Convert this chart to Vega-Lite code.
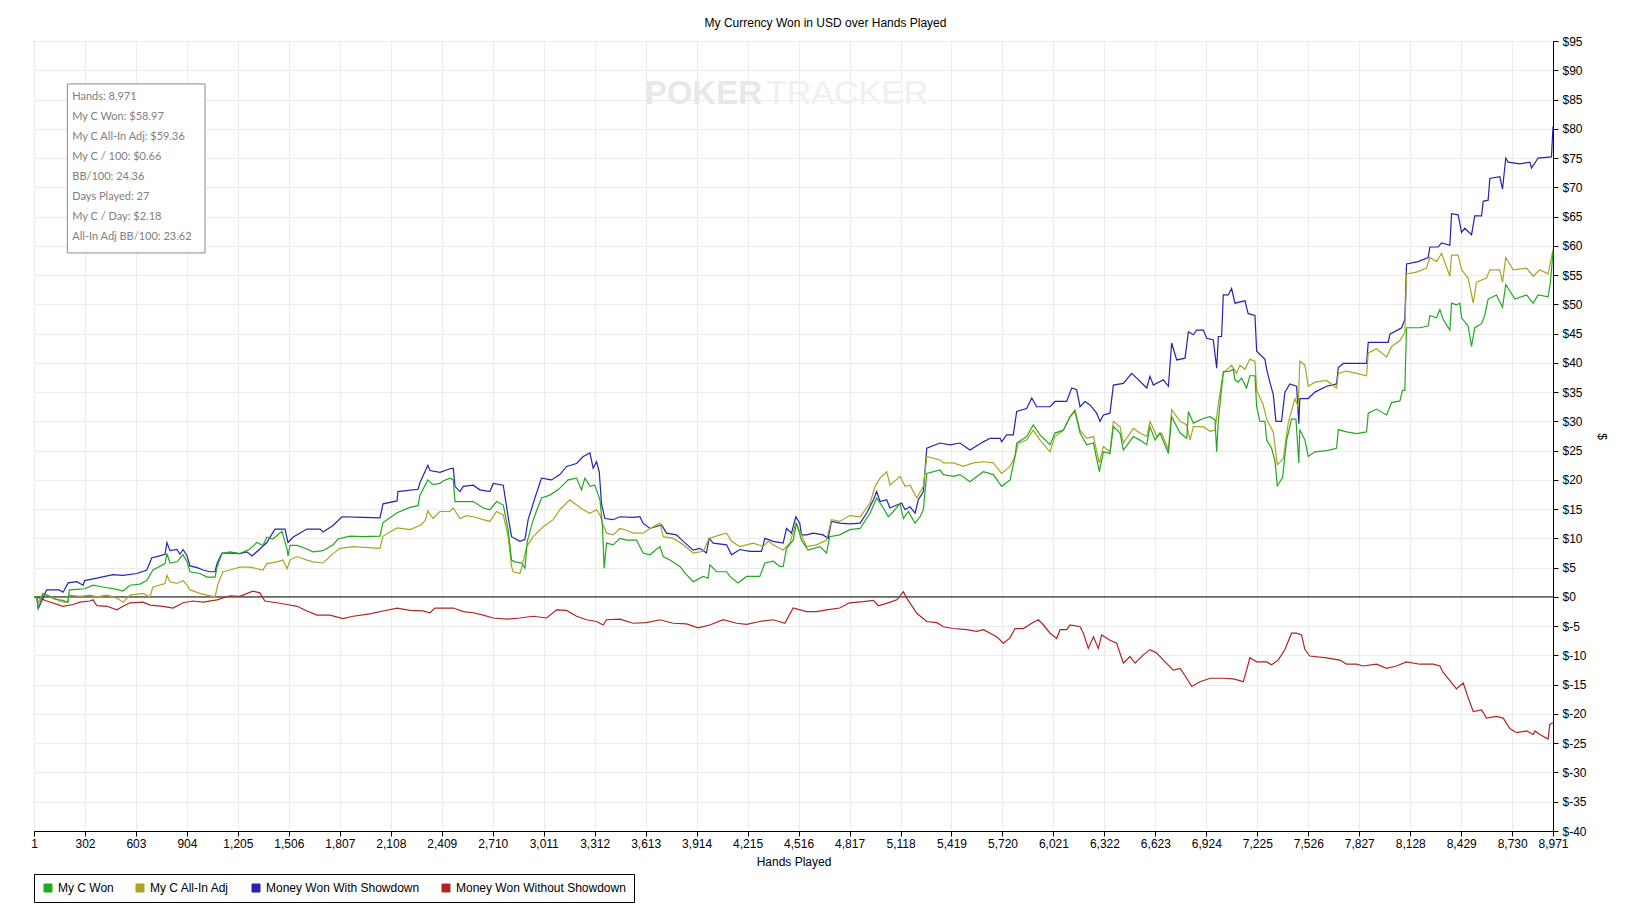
{
  "$schema": "https://vega.github.io/schema/vega-lite/v6.json",
  "description": "My Currency Won in USD over Hands Played",
  "autosize": "none",
  "width": 1519,
  "height": 790,
  "padding": {"left": 34, "top": 41, "right": 83, "bottom": 92},
  "background": "white",
  "title": {
    "text": "My Currency Won in USD over Hands Played",
    "font": "Liberation Sans",
    "fontSize": 12,
    "fontWeight": "normal",
    "color": "black",
    "anchor": "middle",
    "dx": 32,
    "offset": 5
  },
  "config": {
    "view": {"stroke": "black", "strokeWidth": 1},
    "axis": {
      "labelFont": "Liberation Sans",
      "labelFontSize": 12,
      "labelColor": "black",
      "titleFont": "Liberation Sans",
      "titleFontSize": 12,
      "titleFontWeight": "normal",
      "titleColor": "black",
      "tickColor": "black",
      "tickSize": 5,
      "domainColor": "black",
      "gridColor": "#ebebeb",
      "gridWidth": 1,
      "labelOverlap": false,
      "labelFlush": false
    }
  },
  "datasets": {
    "box": [{"h": 198, "h2": 1011, "v": 87.66, "v2": 58.78}],
    "stats": [
      {"h": 227, "v": 85.49, "t": "Hands: 8,971"},
      {"h": 227, "v": 82.07, "t": "My C Won: $58.97"},
      {"h": 227, "v": 78.66, "t": "My C All-In Adj: $59.36"},
      {"h": 227, "v": 75.24, "t": "My C / 100: $0.66"},
      {"h": 227, "v": 71.82, "t": "BB/100: 24.36"},
      {"h": 227, "v": 68.40, "t": "Days Played: 27"},
      {"h": 227, "v": 64.98, "t": "My C / Day: $2.18"},
      {"h": 227, "v": 61.57, "t": "All-In Adj BB/100: 23.62"}
    ],
    "won": [
      {"h":1,"v":0},{"h":17,"v":0},{"h":26,"v":-2},{"h":55,"v":0.6},{"h":76,"v":0.3},{"h":125,"v":-0.4},{"h":173,"v":-0.6},{"h":200,"v":-0.9},{"h":210,"v":1.2},{"h":253,"v":1.3},{"h":300,"v":1.4},{"h":350,"v":2.0},{"h":408,"v":1.7},{"h":490,"v":1.3},{"h":527,"v":1.0},{"h":568,"v":2.0},{"h":627,"v":2.2},{"h":667,"v":2.8},{"h":703,"v":4.6},{"h":775,"v":5.7},{"h":786,"v":7.4},{"h":804,"v":5.8},{"h":845,"v":6.0},{"h":881,"v":7.2},{"h":905,"v":6.0},{"h":922,"v":4.3},{"h":981,"v":4.0},{"h":1023,"v":3.4},{"h":1070,"v":3.4},{"h":1082,"v":5.1},{"h":1111,"v":7.4},{"h":1158,"v":7.7},{"h":1217,"v":7.4},{"h":1276,"v":8.2},{"h":1317,"v":9.3},{"h":1353,"v":8.8},{"h":1376,"v":10.2},{"h":1412,"v":9.9},{"h":1465,"v":11.2},{"h":1495,"v":8.2},{"h":1501,"v":7.0},{"h":1513,"v":8.8},{"h":1554,"v":8.8},{"h":1613,"v":8.2},{"h":1649,"v":7.7},{"h":1708,"v":7.9},{"h":1767,"v":8.9},{"h":1796,"v":9.9},{"h":1867,"v":10.4},{"h":1944,"v":10.3},{"h":2044,"v":10.4},{"h":2062,"v":12.7},{"h":2145,"v":14.4},{"h":2221,"v":15.3},{"h":2269,"v":15.6},{"h":2280,"v":17.4},{"h":2327,"v":20.0},{"h":2357,"v":19.2},{"h":2398,"v":19.4},{"h":2416,"v":19.8},{"h":2457,"v":20.3},
      {"h":2477,"v":20.0},{"h":2487,"v":16.3},{"h":2536,"v":16.3},{"h":2595,"v":16.3},{"h":2654,"v":15.2},{"h":2693,"v":14.9},{"h":2733,"v":16.3},{"h":2772,"v":15.7},{"h":2801,"v":11.5},{"h":2821,"v":6.3},{"h":2841,"v":6.0},{"h":2880,"v":5.8},{"h":2900,"v":4.9},{"h":2914,"v":9.5},{"h":2949,"v":13.2},{"h":2998,"v":16.9},{"h":3047,"v":17.4},{"h":3096,"v":18.3},{"h":3156,"v":20.0},{"h":3205,"v":20.3},{"h":3234,"v":18.3},{"h":3254,"v":20.3},{"h":3284,"v":18.9},{"h":3313,"v":19.1},{"h":3343,"v":16.6},{"h":3358,"v":12.0},{"h":3368,"v":4.9},{"h":3382,"v":9.2},{"h":3421,"v":8.9},{"h":3461,"v":10.0},{"h":3500,"v":9.7},{"h":3559,"v":9.7},{"h":3598,"v":7.5},{"h":3638,"v":7.2},{"h":3697,"v":8.6},{"h":3717,"v":6.9},{"h":3756,"v":6.3},{"h":3815,"v":5.2},{"h":3854,"v":3.8},{"h":3894,"v":2.6},{"h":3953,"v":3.5},{"h":3982,"v":3.2},{"h":3992,"v":5.5},{"h":4032,"v":4.3},{"h":4091,"v":4.3},{"h":4110,"v":3.5},{"h":4159,"v":2.4},{"h":4209,"v":3.5},{"h":4287,"v":3.5},{"h":4317,"v":5.8},{"h":4366,"v":6.1},{"h":4405,"v":5.2},{"h":4425,"v":5.2},{"h":4445,"v":8.3},{"h":4484,"v":9.7},{"h":4504,"v":12.6},{"h":4533,"v":9.7},{"h":4572,"v":8.0},{"h":4642,"v":8.6},{"h":4681,"v":7.5},{"h":4700,"v":10.3},{"h":4759,"v":10.6},{"h":4818,"v":11.5},
      {"h":4879,"v":11.7},{"h":4938,"v":14.3},{"h":4968,"v":16.3},{"h":4977,"v":16.9},{"h":5017,"v":15.2},{"h":5046,"v":13.7},{"h":5076,"v":14.6},{"h":5115,"v":16.0},{"h":5135,"v":13.4},{"h":5164,"v":14.6},{"h":5204,"v":12.6},{"h":5233,"v":13.7},{"h":5253,"v":14.9},{"h":5273,"v":21.1},{"h":5351,"v":21.7},{"h":5371,"v":20.9},{"h":5430,"v":20.6},{"h":5469,"v":20.9},{"h":5528,"v":19.7},{"h":5607,"v":21.4},{"h":5666,"v":20.9},{"h":5715,"v":18.9},{"h":5765,"v":20.0},{"h":5794,"v":24.0},{"h":5804,"v":26.3},{"h":5863,"v":27.4},{"h":5902,"v":29.4},{"h":5942,"v":27.7},{"h":6001,"v":26.0},{"h":6030,"v":28.0},{"h":6080,"v":28.5},{"h":6119,"v":30.8},{"h":6148,"v":31.7},{"h":6178,"v":28.0},{"h":6217,"v":26.0},{"h":6257,"v":26.3},{"h":6292,"v":21.4},{"h":6316,"v":24.8},{"h":6355,"v":24.5},{"h":6375,"v":29.1},{"h":6414,"v":28.0},{"h":6434,"v":25.1},{"h":6493,"v":27.4},{"h":6532,"v":26.8},{"h":6572,"v":26.0},{"h":6591,"v":29.1},{"h":6621,"v":26.8},{"h":6650,"v":28.0},{"h":6700,"v":24.5},{"h":6719,"v":30.8},{"h":6769,"v":28.0},{"h":6808,"v":27.1},{"h":6818,"v":31.7},{"h":6847,"v":29.7},{"h":6906,"v":30.5},{"h":6946,"v":30.8},{"h":6975,"v":30.3},{"h":6985,"v":24.8},{"h":6995,"v":30.3},
      {"h":7024,"v":38.5},{"h":7063,"v":38.6},{"h":7083,"v":38.9},{"h":7093,"v":37.1},{"h":7112,"v":36.7},{"h":7132,"v":37.4},{"h":7161,"v":35.7},{"h":7181,"v":37.8},{"h":7211,"v":37.8},{"h":7221,"v":32.5},{"h":7240,"v":30.0},{"h":7270,"v":30.0},{"h":7280,"v":26.8},{"h":7309,"v":25.4},{"h":7329,"v":23.3},{"h":7343,"v":19.0},{"h":7374,"v":20.4},{"h":7398,"v":26.8},{"h":7427,"v":30.4},{"h":7453,"v":30.4},{"h":7470,"v":22.9},{"h":7476,"v":28.6},{"h":7506,"v":26.8},{"h":7526,"v":24.0},{"h":7565,"v":24.8},{"h":7634,"v":25.0},{"h":7693,"v":25.4},{"h":7703,"v":28.6},{"h":7752,"v":28.2},{"h":7811,"v":27.9},{"h":7870,"v":28.2},{"h":7880,"v":31.4},{"h":7929,"v":32.1},{"h":7988,"v":31.1},{"h":8018,"v":33.2},{"h":8067,"v":33.5},{"h":8082,"v":35.3},{"h":8096,"v":35.3},{"h":8106,"v":46.0},{"h":8185,"v":46.0},{"h":8234,"v":46.3},{"h":8244,"v":48.1},{"h":8283,"v":47.7},{"h":8303,"v":49.1},{"h":8323,"v":47.4},{"h":8362,"v":45.6},{"h":8372,"v":50.2},{"h":8401,"v":49.9},{"h":8421,"v":50.2},{"h":8431,"v":47.7},{"h":8470,"v":46.3},{"h":8490,"v":42.8},{"h":8509,"v":46.0},{"h":8549,"v":46.7},{"h":8568,"v":48.1},{"h":8588,"v":50.9},{"h":8637,"v":51.6},{"h":8673,"v":49.5},{"h":8692,"v":53.4},{"h":8746,"v":50.9},{"h":8815,"v":51.6},{"h":8854,"v":50.2},{"h":8883,"v":51.6},{"h":8942,"v":51.3},{"h":8956,"v":53.8},{"h":8971,"v":58.97}
    ],
    "adj": [
      {"h":1,"v":0},{"h":17,"v":0},{"h":26,"v":-1},{"h":55,"v":0.6},{"h":96,"v":0.1},{"h":173,"v":-0.9},{"h":203,"v":-0.9},{"h":210,"v":0.3},{"h":273,"v":0.1},{"h":332,"v":0.3},{"h":372,"v":0},{"h":432,"v":0.3},{"h":490,"v":-0.2},{"h":527,"v":-0.9},{"h":568,"v":0.3},{"h":645,"v":0.6},{"h":686,"v":0.0},{"h":703,"v":1.7},{"h":775,"v":2.3},{"h":786,"v":3.7},{"h":804,"v":2.6},{"h":845,"v":2.3},{"h":881,"v":2.8},{"h":905,"v":2.0},{"h":922,"v":1.2},{"h":981,"v":0.6},{"h":1023,"v":0.3},{"h":1070,"v":0},{"h":1088,"v":2.3},{"h":1117,"v":4.3},{"h":1158,"v":4.6},{"h":1217,"v":5.1},{"h":1276,"v":5.1},{"h":1353,"v":4.6},{"h":1376,"v":5.7},{"h":1435,"v":6.0},{"h":1471,"v":6.3},{"h":1495,"v":4.8},{"h":1513,"v":6.3},{"h":1554,"v":6.9},{"h":1613,"v":6.3},{"h":1649,"v":6.0},{"h":1708,"v":5.8},{"h":1767,"v":7.4},{"h":1808,"v":8.3},{"h":1885,"v":8.6},{"h":2044,"v":8.3},{"h":2062,"v":10.4},{"h":2145,"v":11.8},{"h":2221,"v":11.5},{"h":2280,"v":12.2},{"h":2310,"v":13.0},{"h":2327,"v":14.7},{"h":2357,"v":13.4},{"h":2398,"v":14.6},{"h":2457,"v":14.6},
      {"h":2477,"v":15.2},{"h":2516,"v":13.4},{"h":2555,"v":13.9},{"h":2595,"v":13.7},{"h":2654,"v":13.2},{"h":2693,"v":12.9},{"h":2733,"v":14.6},{"h":2772,"v":14.0},{"h":2801,"v":10.3},{"h":2821,"v":5.2},{"h":2831,"v":4.3},{"h":2870,"v":4.0},{"h":2880,"v":4.9},{"h":2910,"v":8.6},{"h":2949,"v":10.3},{"h":3008,"v":12.0},{"h":3067,"v":13.2},{"h":3106,"v":14.9},{"h":3165,"v":16.6},{"h":3205,"v":15.7},{"h":3244,"v":14.9},{"h":3284,"v":14.3},{"h":3323,"v":14.9},{"h":3343,"v":14.0},{"h":3362,"v":12.3},{"h":3382,"v":10.9},{"h":3421,"v":10.6},{"h":3461,"v":11.7},{"h":3500,"v":11.4},{"h":3539,"v":10.9},{"h":3598,"v":10.9},{"h":3638,"v":11.7},{"h":3697,"v":12.6},{"h":3717,"v":10.3},{"h":3776,"v":10.0},{"h":3835,"v":8.9},{"h":3894,"v":7.5},{"h":3953,"v":7.8},{"h":3988,"v":10.0},{"h":4051,"v":10.6},{"h":4091,"v":10.9},{"h":4120,"v":9.5},{"h":4169,"v":8.6},{"h":4248,"v":9.2},{"h":4307,"v":8.6},{"h":4336,"v":9.5},{"h":4366,"v":8.9},{"h":4425,"v":8.0},{"h":4464,"v":9.2},{"h":4500,"v":12.6},{"h":4533,"v":10.6},{"h":4563,"v":8.6},{"h":4622,"v":8.9},{"h":4681,"v":9.7},{"h":4710,"v":13.2},{"h":4759,"v":12.9},{"h":4818,"v":13.9},
      {"h":4879,"v":13.7},{"h":4938,"v":16.0},{"h":4968,"v":18.9},{"h":4997,"v":20.3},{"h":5036,"v":21.4},{"h":5056,"v":19.1},{"h":5115,"v":20.6},{"h":5145,"v":18.9},{"h":5174,"v":19.1},{"h":5214,"v":16.9},{"h":5253,"v":18.9},{"h":5273,"v":24.0},{"h":5351,"v":23.4},{"h":5371,"v":22.9},{"h":5430,"v":22.9},{"h":5489,"v":22.3},{"h":5548,"v":22.9},{"h":5607,"v":23.1},{"h":5666,"v":22.9},{"h":5715,"v":21.1},{"h":5765,"v":22.3},{"h":5794,"v":24.0},{"h":5814,"v":26.3},{"h":5863,"v":26.8},{"h":5902,"v":28.5},{"h":5942,"v":26.8},{"h":6001,"v":24.8},{"h":6030,"v":27.4},{"h":6080,"v":28.5},{"h":6119,"v":30.8},{"h":6148,"v":32.0},{"h":6178,"v":28.5},{"h":6217,"v":27.1},{"h":6257,"v":27.4},{"h":6292,"v":22.9},{"h":6316,"v":25.7},{"h":6355,"v":24.8},{"h":6375,"v":30.0},{"h":6414,"v":29.1},{"h":6434,"v":26.3},{"h":6493,"v":28.8},{"h":6532,"v":28.0},{"h":6572,"v":27.4},{"h":6591,"v":30.0},{"h":6631,"v":27.4},{"h":6660,"v":28.0},{"h":6700,"v":25.1},{"h":6719,"v":32.0},{"h":6769,"v":30.0},{"h":6808,"v":29.4},{"h":6828,"v":26.8},{"h":6847,"v":29.1},{"h":6906,"v":29.1},{"h":6946,"v":28.3},{"h":6975,"v":28.5},{"h":6995,"v":33.1},
      {"h":7024,"v":38.2},{"h":7073,"v":39.6},{"h":7102,"v":38.2},{"h":7122,"v":39.6},{"h":7152,"v":38.9},{"h":7181,"v":40.6},{"h":7211,"v":40.3},{"h":7221,"v":35.3},{"h":7260,"v":32.8},{"h":7280,"v":30.4},{"h":7319,"v":28.2},{"h":7343,"v":22.6},{"h":7378,"v":23.6},{"h":7407,"v":29.6},{"h":7447,"v":33.9},{"h":7466,"v":32.5},{"h":7476,"v":40.3},{"h":7506,"v":39.6},{"h":7526,"v":36.0},{"h":7565,"v":36.7},{"h":7634,"v":37.0},{"h":7693,"v":35.7},{"h":7703,"v":38.2},{"h":7752,"v":38.6},{"h":7811,"v":38.2},{"h":7870,"v":37.8},{"h":7880,"v":41.7},{"h":7929,"v":42.4},{"h":7988,"v":41.0},{"h":8018,"v":42.8},{"h":8067,"v":43.8},{"h":8096,"v":45.2},{"h":8106,"v":55.2},{"h":8165,"v":55.5},{"h":8224,"v":56.2},{"h":8244,"v":58.0},{"h":8283,"v":57.3},{"h":8313,"v":58.7},{"h":8362,"v":54.8},{"h":8372,"v":58.4},{"h":8411,"v":58.4},{"h":8431,"v":55.9},{"h":8470,"v":54.5},{"h":8500,"v":50.2},{"h":8519,"v":53.8},{"h":8578,"v":54.5},{"h":8598,"v":55.9},{"h":8657,"v":55.9},{"h":8673,"v":53.8},{"h":8692,"v":58.0},{"h":8736,"v":55.9},{"h":8815,"v":56.2},{"h":8854,"v":54.8},{"h":8893,"v":55.9},{"h":8942,"v":55.2},{"h":8971,"v":59.36}
    ],
    "sd": [
      {"h":1,"v":0},{"h":17,"v":0},{"h":26,"v":-2},{"h":76,"v":1.2},{"h":150,"v":1.2},{"h":173,"v":0.8},{"h":203,"v":2.4},{"h":253,"v":2.6},{"h":291,"v":2.0},{"h":300,"v":2.8},{"h":372,"v":3.2},{"h":468,"v":3.8},{"h":527,"v":3.7},{"h":608,"v":4.0},{"h":667,"v":4.6},{"h":697,"v":6.7},{"h":727,"v":6.9},{"h":775,"v":7.3},{"h":786,"v":9.3},{"h":804,"v":7.9},{"h":845,"v":8.1},{"h":863,"v":7.3},{"h":881,"v":8.1},{"h":905,"v":7.0},{"h":922,"v":5.3},{"h":964,"v":5.0},{"h":1000,"v":4.6},{"h":1040,"v":4.3},{"h":1070,"v":4.3},{"h":1082,"v":5.7},{"h":1111,"v":7.5},{"h":1158,"v":7.5},{"h":1217,"v":7.4},{"h":1258,"v":7.7},{"h":1288,"v":7.0},{"h":1335,"v":8.2},{"h":1376,"v":9.3},{"h":1424,"v":11.6},{"h":1483,"v":11.6},{"h":1501,"v":9.3},{"h":1530,"v":10.2},{"h":1613,"v":11.6},{"h":1690,"v":11.6},{"h":1708,"v":11.1},{"h":1767,"v":12.2},{"h":1820,"v":13.7},{"h":1944,"v":13.6},{"h":2044,"v":13.5},{"h":2062,"v":15.9},{"h":2145,"v":16.4},{"h":2150,"v":18.0},{"h":2269,"v":18.4},{"h":2280,"v":19.5},{"h":2327,"v":22.5},{"h":2339,"v":21.6},{"h":2398,"v":21.3},{"h":2457,"v":21.9},
      {"h":2477,"v":22.0},{"h":2487,"v":18.9},{"h":2516,"v":18.0},{"h":2536,"v":18.9},{"h":2595,"v":19.1},{"h":2634,"v":18.3},{"h":2693,"v":18.0},{"h":2713,"v":19.4},{"h":2772,"v":19.1},{"h":2801,"v":13.7},{"h":2821,"v":10.3},{"h":2870,"v":9.5},{"h":2900,"v":9.8},{"h":2919,"v":13.2},{"h":2959,"v":16.9},{"h":2998,"v":20.3},{"h":3057,"v":20.0},{"h":3106,"v":20.9},{"h":3146,"v":22.3},{"h":3205,"v":22.8},{"h":3244,"v":24.0},{"h":3284,"v":24.6},{"h":3303,"v":22.0},{"h":3323,"v":23.1},{"h":3339,"v":21.4},{"h":3352,"v":16.0},{"h":3372,"v":13.4},{"h":3421,"v":13.2},{"h":3461,"v":13.7},{"h":3539,"v":13.6},{"h":3579,"v":13.7},{"h":3598,"v":12.6},{"h":3638,"v":11.7},{"h":3707,"v":12.3},{"h":3736,"v":10.9},{"h":3795,"v":10.6},{"h":3835,"v":9.5},{"h":3894,"v":8.0},{"h":3933,"v":8.3},{"h":3972,"v":7.5},{"h":3988,"v":10.0},{"h":4012,"v":9.2},{"h":4091,"v":8.9},{"h":4120,"v":7.2},{"h":4169,"v":8.1},{"h":4228,"v":7.8},{"h":4297,"v":7.8},{"h":4317,"v":10.0},{"h":4366,"v":9.5},{"h":4425,"v":9.2},{"h":4445,"v":11.7},{"h":4474,"v":10.9},{"h":4500,"v":13.7},{"h":4523,"v":12.6},{"h":4533,"v":10.6},{"h":4563,"v":10.6},{"h":4602,"v":10.9},{"h":4661,"v":10.6},{"h":4691,"v":10.0},{"h":4710,"v":12.9},{"h":4759,"v":12.6},{"h":4818,"v":12.5},
      {"h":4879,"v":12.6},{"h":4918,"v":14.3},{"h":4958,"v":16.6},{"h":4977,"v":18.0},{"h":4997,"v":16.3},{"h":5036,"v":16.6},{"h":5056,"v":15.2},{"h":5096,"v":15.7},{"h":5125,"v":16.0},{"h":5145,"v":14.9},{"h":5174,"v":15.4},{"h":5204,"v":14.3},{"h":5223,"v":16.6},{"h":5253,"v":18.0},{"h":5273,"v":25.4},{"h":5351,"v":26.3},{"h":5410,"v":26.0},{"h":5469,"v":26.3},{"h":5528,"v":25.1},{"h":5607,"v":26.5},{"h":5647,"v":27.1},{"h":5706,"v":27.1},{"h":5715,"v":26.5},{"h":5745,"v":27.7},{"h":5784,"v":27.7},{"h":5804,"v":31.7},{"h":5863,"v":32.2},{"h":5893,"v":34.0},{"h":5922,"v":32.5},{"h":6001,"v":32.5},{"h":6030,"v":33.4},{"h":6099,"v":33.4},{"h":6129,"v":35.7},{"h":6158,"v":35.4},{"h":6178,"v":32.5},{"h":6207,"v":33.4},{"h":6237,"v":32.8},{"h":6276,"v":31.4},{"h":6296,"v":30.0},{"h":6316,"v":31.1},{"h":6355,"v":31.4},{"h":6375,"v":36.2},{"h":6434,"v":36.5},{"h":6483,"v":38.2},{"h":6513,"v":37.4},{"h":6572,"v":35.7},{"h":6591,"v":37.7},{"h":6611,"v":36.2},{"h":6670,"v":37.1},{"h":6700,"v":36.0},{"h":6719,"v":43.4},{"h":6749,"v":40.5},{"h":6798,"v":40.8},{"h":6818,"v":45.3},{"h":6847,"v":44.8},{"h":6867,"v":45.6},{"h":6906,"v":45.6},{"h":6926,"v":44.2},{"h":6965,"v":43.9},{"h":6985,"v":39.1},{"h":6995,"v":44.5},{"h":7014,"v":44.5},
      {"h":7024,"v":51.6},{"h":7053,"v":51.6},{"h":7073,"v":52.7},{"h":7093,"v":50.2},{"h":7152,"v":50.6},{"h":7171,"v":48.4},{"h":7211,"v":48.1},{"h":7221,"v":42.0},{"h":7270,"v":40.6},{"h":7280,"v":38.9},{"h":7299,"v":36.7},{"h":7319,"v":34.6},{"h":7335,"v":30.0},{"h":7368,"v":30.0},{"h":7388,"v":35.0},{"h":7417,"v":36.4},{"h":7457,"v":36.0},{"h":7470,"v":29.6},{"h":7476,"v":33.9},{"h":7526,"v":33.9},{"h":7565,"v":35.0},{"h":7634,"v":36.0},{"h":7693,"v":36.4},{"h":7703,"v":39.2},{"h":7732,"v":39.9},{"h":7811,"v":39.9},{"h":7870,"v":39.9},{"h":7880,"v":43.5},{"h":7998,"v":43.5},{"h":8008,"v":44.9},{"h":8077,"v":46.0},{"h":8096,"v":47.4},{"h":8106,"v":56.9},{"h":8175,"v":57.3},{"h":8234,"v":58.0},{"h":8244,"v":59.8},{"h":8293,"v":59.8},{"h":8313,"v":60.5},{"h":8362,"v":60.1},{"h":8372,"v":65.5},{"h":8411,"v":65.3},{"h":8431,"v":62.3},{"h":8450,"v":63.0},{"h":8490,"v":61.9},{"h":8509,"v":65.1},{"h":8549,"v":65.1},{"h":8559,"v":67.6},{"h":8588,"v":67.8},{"h":8598,"v":71.5},{"h":8657,"v":71.8},{"h":8673,"v":69.7},{"h":8692,"v":75.0},{"h":8706,"v":74.3},{"h":8775,"v":74.0},{"h":8834,"v":74.3},{"h":8844,"v":73.3},{"h":8883,"v":75.0},{"h":8962,"v":75.2},{"h":8971,"v":80.4}
    ],
    "nsd": [
      {"h":1,"v":0},{"h":17,"v":0},{"h":76,"v":-0.7},{"h":173,"v":-1.6},{"h":231,"v":-1.3},{"h":273,"v":-0.9},{"h":332,"v":-0.7},{"h":350,"v":-0.5},{"h":372,"v":-1.5},{"h":432,"v":-1.6},{"h":490,"v":-2.2},{"h":527,"v":-1.6},{"h":568,"v":-1.0},{"h":645,"v":-0.9},{"h":686,"v":-1.4},{"h":763,"v":-1.6},{"h":822,"v":-1.9},{"h":881,"v":-1.0},{"h":940,"v":-0.7},{"h":1000,"v":-0.9},{"h":1082,"v":-0.5},{"h":1158,"v":0.2},{"h":1217,"v":0.1},{"h":1293,"v":1.0},{"h":1335,"v":0.7},{"h":1364,"v":-0.7},{"h":1435,"v":-1.0},{"h":1495,"v":-1.3},{"h":1554,"v":-1.6},{"h":1613,"v":-2.4},{"h":1672,"v":-3.1},{"h":1749,"v":-3.1},{"h":1826,"v":-3.7},{"h":1885,"v":-3.3},{"h":1985,"v":-2.9},{"h":2062,"v":-2.4},{"h":2145,"v":-1.9},{"h":2221,"v":-2.3},{"h":2298,"v":-2.4},{"h":2339,"v":-2.7},{"h":2369,"v":-1.9},{"h":2398,"v":-1.9},
      {"h":2477,"v":-1.9},{"h":2536,"v":-2.5},{"h":2595,"v":-2.7},{"h":2654,"v":-3.1},{"h":2713,"v":-3.6},{"h":2792,"v":-3.8},{"h":2870,"v":-3.6},{"h":2949,"v":-3.3},{"h":3028,"v":-3.6},{"h":3087,"v":-2.2},{"h":3146,"v":-2.3},{"h":3205,"v":-3.3},{"h":3264,"v":-3.9},{"h":3323,"v":-4.2},{"h":3362,"v":-4.8},{"h":3382,"v":-3.9},{"h":3461,"v":-3.8},{"h":3539,"v":-4.5},{"h":3618,"v":-4.4},{"h":3697,"v":-3.9},{"h":3776,"v":-4.5},{"h":3854,"v":-4.6},{"h":3923,"v":-5.3},{"h":3992,"v":-4.8},{"h":4071,"v":-3.9},{"h":4150,"v":-4.5},{"h":4209,"v":-4.7},{"h":4287,"v":-4.2},{"h":4366,"v":-3.9},{"h":4435,"v":-4.5},{"h":4484,"v":-1.9},{"h":4563,"v":-2.5},{"h":4622,"v":-2.5},{"h":4681,"v":-2.2},{"h":4759,"v":-1.9},{"h":4818,"v":-1.0},
      {"h":4899,"v":-0.8},{"h":4958,"v":-0.6},{"h":4987,"v":-1.5},{"h":5036,"v":-1.1},{"h":5096,"v":-0.5},{"h":5135,"v":0.9},{"h":5155,"v":-0.2},{"h":5214,"v":-2.8},{"h":5273,"v":-4.2},{"h":5332,"v":-4.4},{"h":5371,"v":-5.1},{"h":5430,"v":-5.4},{"h":5509,"v":-5.6},{"h":5568,"v":-5.9},{"h":5607,"v":-5.6},{"h":5686,"v":-6.8},{"h":5725,"v":-7.9},{"h":5765,"v":-7.0},{"h":5794,"v":-5.4},{"h":5843,"v":-5.4},{"h":5893,"v":-4.5},{"h":5932,"v":-3.9},{"h":5962,"v":-4.8},{"h":6001,"v":-6.2},{"h":6040,"v":-7.1},{"h":6060,"v":-5.6},{"h":6099,"v":-5.6},{"h":6119,"v":-4.8},{"h":6178,"v":-5.1},{"h":6198,"v":-6.2},{"h":6227,"v":-8.8},{"h":6257,"v":-6.8},{"h":6286,"v":-8.8},{"h":6306,"v":-6.5},{"h":6355,"v":-7.4},{"h":6394,"v":-7.9},{"h":6434,"v":-11.3},{"h":6473,"v":-10.2},{"h":6503,"v":-11.3},{"h":6552,"v":-9.9},{"h":6591,"v":-9.0},{"h":6631,"v":-9.6},{"h":6670,"v":-10.8},{"h":6729,"v":-12.5},{"h":6769,"v":-12.2},{"h":6808,"v":-13.9},{"h":6838,"v":-15.3},{"h":6887,"v":-14.5},{"h":6946,"v":-13.9},{"h":7024,"v":-13.9},{"h":7083,"v":-14.0},
      {"h":7122,"v":-14.3},{"h":7142,"v":-14.5},{"h":7161,"v":-12.6},{"h":7181,"v":-10.4},{"h":7221,"v":-11.1},{"h":7280,"v":-11.1},{"h":7309,"v":-11.6},{"h":7348,"v":-10.8},{"h":7388,"v":-9.0},{"h":7427,"v":-6.2},{"h":7457,"v":-6.2},{"h":7486,"v":-6.5},{"h":7506,"v":-9.0},{"h":7535,"v":-10.1},{"h":7634,"v":-10.4},{"h":7713,"v":-10.8},{"h":7752,"v":-11.5},{"h":7811,"v":-11.5},{"h":7850,"v":-11.8},{"h":7929,"v":-11.5},{"h":7988,"v":-12.2},{"h":8047,"v":-11.8},{"h":8106,"v":-11.1},{"h":8185,"v":-11.5},{"h":8264,"v":-11.5},{"h":8303,"v":-11.8},{"h":8323,"v":-12.9},{"h":8362,"v":-14.3},{"h":8401,"v":-15.7},{"h":8441,"v":-14.7},{"h":8470,"v":-17.2},{"h":8500,"v":-19.6},{"h":8549,"v":-19.3},{"h":8578,"v":-20.7},{"h":8637,"v":-20.4},{"h":8677,"v":-20.7},{"h":8716,"v":-22.5},{"h":8755,"v":-23.2},{"h":8815,"v":-22.9},{"h":8854,"v":-23.5},{"h":8864,"v":-22.9},{"h":8893,"v":-23.5},{"h":8942,"v":-24.3},{"h":8952,"v":-21.8},{"h":8971,"v":-21.5}
    ],
    "mark": [
      {"h": 4300, "v": 86.0, "t": "POKER", "part": "a"},
      {"h": 4323, "v": 86.0, "t": "TRACKER", "part": "b"}
    ],
    "zero": [{"v": 0}]
  },
  "encoding": {
    "x": {
      "field": "h",
      "type": "quantitative",
      "scale": {"domain": [1, 8971], "nice": false, "zero": false},
      "axis": {
        "title": "Hands Played",
        "values": [1, 302, 603, 904, 1205, 1506, 1807, 2108, 2409, 2710, 3011, 3312, 3613, 3914, 4215, 4516, 4817, 5118, 5419, 5720, 6021, 6322, 6623, 6924, 7225, 7526, 7827, 8128, 8429, 8730, 8971],
        "format": ",d",
        "labelPadding": 2,
        "titlePadding": 7
      }
    },
    "y": {
      "field": "v",
      "type": "quantitative",
      "scale": {"domain": [-40, 95], "nice": false, "zero": false},
      "axis": {
        "orient": "right",
        "title": "$",
        "values": [-40, -35, -30, -25, -20, -15, -10, -5, 0, 5, 10, 15, 20, 25, 30, 35, 40, 45, 50, 55, 60, 65, 70, 75, 80, 85, 90, 95],
        "labelExpr": "'$' + datum.value",
        "labelPadding": 4,
        "titlePadding": 8
      }
    }
  },
  "layer": [
    {
      "data": {"name": "box"},
      "mark": {"type": "rect", "fill": "white", "stroke": "#8a8a8a", "strokeWidth": 1},
      "encoding": {"x2": {"field": "h2"}, "y2": {"field": "v2"}}
    },
    {
      "data": {"name": "stats"},
      "mark": {"type": "text", "align": "left", "baseline": "middle", "font": "Lato", "fontSize": 11, "color": "#808080"},
      "encoding": {"text": {"field": "t"}}
    },
    {
      "data": {"name": "mark"},
      "transform": [{"filter": "datum.part === 'a'"}],
      "mark": {"type": "text", "align": "right", "baseline": "middle", "font": "Liberation Sans", "fontSize": 33, "fontWeight": "bold", "color": "#e8e8e8"},
      "encoding": {"text": {"field": "t"}}
    },
    {
      "data": {"name": "mark"},
      "transform": [{"filter": "datum.part === 'b'"}],
      "mark": {"type": "text", "align": "left", "baseline": "middle", "font": "Liberation Sans", "fontSize": 34, "color": "#f0f0f0"},
      "encoding": {"text": {"field": "t"}}
    },
    {
      "data": {"name": "zero"},
      "mark": {"type": "rule", "color": "black", "strokeWidth": 1},
      "encoding": {"x": {"value": 0}, "x2": {"value": 1519}}
    },
    {
      "data": {"name": "nsd"},
      "mark": {"type": "line", "strokeWidth": 1.2},
      "encoding": {
        "color": {
          "datum": "Money Won Without Showdown",
          "type": "nominal",
          "scale": {
            "domain": ["My C Won", "My C All-In Adj", "Money Won With Showdown", "Money Won Without Showdown"],
            "range": ["#22a822", "#aaa424", "#2424b0", "#b02424"]
          },
          "legend": {
            "title": null,
            "orient": "none",
            "legendX": 0,
            "legendY": 833,
            "direction": "horizontal",
            "symbolType": "square",
            "symbolSize": 64,
            "labelFont": "Liberation Sans",
            "labelFontSize": 12,
            "labelColor": "black",
            "labelLimit": 0,
            "labelOffset": 4,
            "columnPadding": 20,
            "padding": 8,
            "strokeColor": "black",
            "fillColor": "white",
            "encode": {
              "symbols": {
                "update": {
                  "fill": {"scale": "color", "field": "value"},
                  "stroke": {"value": "black"},
                  "strokeWidth": {"value": 1},
                  "opacity": {"value": 1}
                }
              }
            }
          }
        }
      }
    },
    {
      "data": {"name": "sd"},
      "mark": {"type": "line", "strokeWidth": 1.2},
      "encoding": {"color": {"datum": "Money Won With Showdown", "type": "nominal"}}
    },
    {
      "data": {"name": "adj"},
      "mark": {"type": "line", "strokeWidth": 1.2},
      "encoding": {"color": {"datum": "My C All-In Adj", "type": "nominal"}}
    },
    {
      "data": {"name": "won"},
      "mark": {"type": "line", "strokeWidth": 1.2},
      "encoding": {"color": {"datum": "My C Won", "type": "nominal"}}
    }
  ]
}
